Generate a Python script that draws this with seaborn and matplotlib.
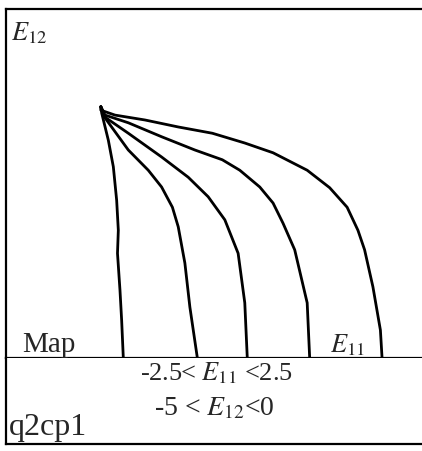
import matplotlib
matplotlib.use("Agg")
import matplotlib.pyplot as plt
import seaborn as sns
import pandas as pd

sns.set_style("white")
plt.rcParams["font.family"] = ["Liberation Serif", "DejaVu Serif"]
plt.rcParams["mathtext.fontset"] = "stix"

# Trajectories in the (E11, E12) map, all leaving the same seed point
c1_e11 = [-1.36, -1.35, -1.27, -1.21, -1.17, -1.15, -1.16, -1.13, -1.11, -1.09]
c1_e12 = [-1.40, -1.49, -1.88, -2.26, -2.74, -3.17, -3.50, -4.03, -4.46, -5.00]
c2_e11 = [-1.36, -1.31, -1.03, -0.79, -0.63, -0.50, -0.43, -0.35, -0.29, -0.20]
c2_e12 = [-1.40, -1.56, -2.02, -2.31, -2.55, -2.84, -3.12, -3.64, -4.27, -5.00]
c3_e11 = [-1.36, -1.31, -1.03, -0.63, -0.31, -0.07, 0.13, 0.29, 0.37, 0.40]
c3_e12 = [-1.40, -1.55, -1.78, -2.12, -2.41, -2.69, -3.02, -3.50, -4.21, -5.00]
c4_e11 = [-1.36, -1.31, -1.03, -0.63, -0.23, 0.10, 0.31, 0.55, 0.71, 0.83, 0.97, 1.12, 1.15]
c4_e12 = [-1.40, -1.52, -1.63, -1.83, -2.02, -2.16, -2.31, -2.55, -2.78, -3.07, -3.45, -4.21, -5.00]
c5_e11 = [-1.36, -1.36, -1.19, -0.83, -0.43, -0.02, 0.37, 0.71, 1.12, 1.39, 1.60, 1.73,
          1.81, 1.91, 2.00, 2.02]
c5_e12 = [-1.40, -1.45, -1.52, -1.59, -1.69, -1.78, -1.92, -2.06, -2.31, -2.56, -2.84, -3.17,
          -3.45, -3.98, -4.60, -5.00]

e11_range = (-2.5, 2.5)
e12_range = (-5.0, 0.0)

curves = [(c1_e11, c1_e12), (c2_e11, c2_e12), (c3_e11, c3_e12),
          (c4_e11, c4_e12), (c5_e11, c5_e12)]
frames = []
for k, (xs, ys) in enumerate(curves):
    frames.append(pd.DataFrame({"E11": xs, "E12": ys, "curve": k}))
df = pd.concat(frames, ignore_index=True)

W, H = 422, 451
fig = plt.figure(figsize=(W / 100, H / 100), dpi=100)

# upper panel: the map itself
left, right_px = 6, 422
top_px, mid_px, bot_px = 9, 358, 444
ax = fig.add_axes([left / W, (H - mid_px) / H, (right_px - left) / W, (mid_px - top_px) / H])
sns.lineplot(data=df, x="E11", y="E12", units="curve", estimator=None, sort=False,
             color="black", linewidth=2.0, ax=ax, legend=False)
ax.set_xlim(*e11_range)
ax.set_ylim(*e12_range)
ax.set_xticks([])
ax.set_yticks([])
ax.set_xlabel("")
ax.set_ylabel("")
for side in ["left", "top", "bottom"]:
    ax.spines[side].set_visible(True)
    ax.spines[side].set_color("black")
    ax.spines[side].set_linewidth(1.6)
ax.spines["right"].set_visible(False)

ax.text(0.013, 0.911, r"$E_{\mathrm{12}}$", transform=ax.transAxes,
        fontsize=19, ha="left", va="baseline")
ax.text(0.038, 0.017, "Map", transform=ax.transAxes, fontsize=21, ha="left", va="baseline")
ax.text(0.779, 0.017, r"$E_{\mathrm{11}}$", transform=ax.transAxes,
        fontsize=19, ha="left", va="baseline")

# lower panel: ranges and case name
ax2 = fig.add_axes([left / W, (H - bot_px) / H, (right_px - left) / W, (bot_px - mid_px) / H])
ax2.set_xlim(0, 1)
ax2.set_ylim(0, 1)
ax2.set_xticks([])
ax2.set_yticks([])
for side in ["left", "bottom"]:
    ax2.spines[side].set_visible(True)
    ax2.spines[side].set_color("black")
    ax2.spines[side].set_linewidth(1.6)
ax2.spines["right"].set_visible(False)
ax2.spines["top"].set_visible(False)

ax2.text(0.507, 0.744, r"-2.5< $E_{\mathrm{11}}$ <2.5", transform=ax2.transAxes,
         fontsize=19, ha="center", va="baseline")
ax2.text(0.500, 0.337, r"-5 < $E_{\mathrm{12}}$<0", transform=ax2.transAxes,
         fontsize=20, ha="center", va="baseline")
ax2.text(0.006, 0.11, "q2cp1", transform=ax2.transAxes, fontsize=23, ha="left", va="baseline")

fig.savefig("out.png", dpi=100)
